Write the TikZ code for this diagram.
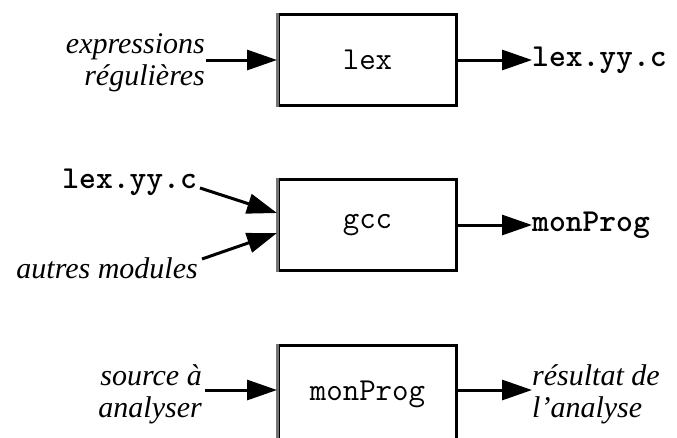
\documentclass[tikz,border=0pt]{standalone}
\usepackage{fontspec}
\setmainfont{Liberation Serif}
\usetikzlibrary{arrows.meta}
\begin{document}
\begin{tikzpicture}[x=1pt,y=-1pt,
  proc/.style={draw, line width=3pt, minimum width=178pt, minimum height=91pt,
    inner sep=0pt, font=\fontsize{32}{34}\selectfont\ttfamily},
  leftedge/.style={draw=black!55, line width=3pt},
  flow/.style={line width=3pt, -{Triangle[length=30pt,width=20pt]}},
  outname/.style={anchor=west, inner sep=0pt,
    font=\fontsize{32}{34}\selectfont\ttfamily\bfseries},
  note/.style={inner sep=0pt, font=\fontsize{30}{32}\selectfont\itshape}]
\useasboundingbox (0,0) rectangle (677,437);
\clip (0,0) rectangle (677,437);

% lex: regular expressions -> lex.yy.c
\node[proc] (lex) at (367.5,60) {lex};
\draw[leftedge] (lex.north west) -- (lex.south west);
\node[note, anchor=east, align=right] (regex) at (205,63) {expressions\\régulières};
\node[outname] (lexc) at (532,60) {lex.yy.c};
\draw[flow] ([xshift=-71pt]lex.west) -- (lex.west);
\draw[flow] (lex.east) -- (lexc.west);

% gcc: lex.yy.c + other modules -> monProg
\node[proc] (gcc) at (367.5,225) {gcc};
\draw[leftedge] (gcc.north west) -- (gcc.south west);
\node[outname, anchor=east] (lyy) at (197,182) {lex.yy.c};
\node[note, anchor=east] (others) at (198,268) {autres modules};
\node[outname] (prog) at (532,225) {monProg};
\draw[flow] ([xshift=3pt,yshift=-6pt]lyy.east) -- ([yshift=12pt]gcc.west);
\draw[flow] ([xshift=4pt,yshift=9pt]others.east) -- ([yshift=-8pt]gcc.west);
\draw[flow] (gcc.east) -- (prog.west);

% monProg: source -> analysis result (box runs past the lower edge)
\node[proc, minimum height=97pt] (run) at (367.5,394) {monProg};
\draw[leftedge] (run.north west) -- (run.south west);
\coordinate (runin) at ([yshift=4pt]run.west);
\coordinate (runout) at ([yshift=4pt]run.east);
\node[note, anchor=east, align=right] (src) at (202,394) {source à\\analyser};
\node[note, anchor=west, align=left] (res) at (532,394) {résultat de\\l'analyse};
\draw[flow] ([xshift=-72pt]runin) -- (runin);
\draw[flow] (runout) -- (runout -| res.west);
\end{tikzpicture}
\end{document}
